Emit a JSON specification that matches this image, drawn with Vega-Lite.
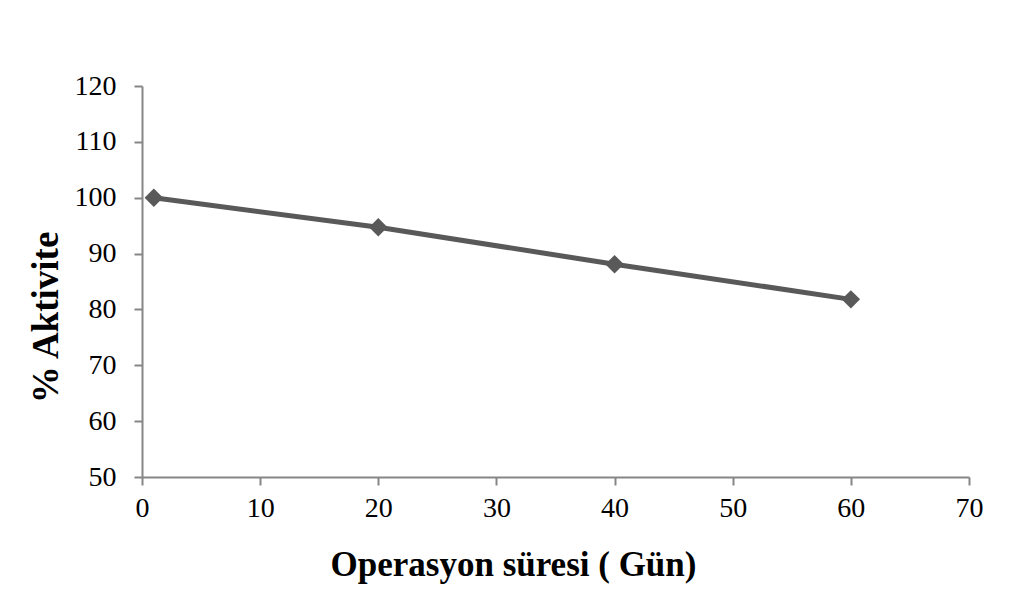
{
  "$schema": "https://vega.github.io/schema/vega-lite/v6.json",
  "width": 827,
  "height": 391,
  "autosize": {"type": "none"},
  "padding": {"left": 142, "top": 86, "right": 58, "bottom": 117},
  "background": "white",
  "config": {
    "view": {"stroke": null},
    "font": "Liberation Serif"
  },
  "data": {
    "values": [
      {"gun": 1, "aktivite": 100.0},
      {"gun": 20, "aktivite": 94.7},
      {"gun": 40, "aktivite": 88.1},
      {"gun": 60, "aktivite": 81.8}
    ]
  },
  "encoding": {
    "x": {
      "field": "gun",
      "type": "quantitative",
      "scale": {"domain": [0, 70], "nice": false, "zero": false},
      "axis": {
        "values": [0, 10, 20, 30, 40, 50, 60, 70],
        "grid": false,
        "domainColor": "#868686",
        "domainWidth": 2,
        "tickColor": "#868686",
        "tickWidth": 2,
        "tickSize": 8,
        "labelFlush": false,
        "labelOverlap": false,
        "labelFont": "Liberation Serif",
        "labelFontSize": 28,
        "labelColor": "#000000",
        "labelPadding": 9,
        "title": "Operasyon süresi ( Gün)",
        "titleFont": "Liberation Serif",
        "titleFontSize": 35,
        "titleFontWeight": "bold",
        "titleColor": "#000000",
        "titleAnchor": "start",
        "titleAlign": "center",
        "titleBaseline": "alphabetic",
        "titleX": 371,
        "titleY": 98
      }
    },
    "y": {
      "field": "aktivite",
      "type": "quantitative",
      "scale": {"domain": [50, 120], "nice": false, "zero": false},
      "axis": {
        "values": [50, 60, 70, 80, 90, 100, 110, 120],
        "grid": false,
        "domainColor": "#868686",
        "domainWidth": 2,
        "tickColor": "#868686",
        "tickWidth": 2,
        "tickSize": 8,
        "labelFlush": false,
        "labelOverlap": false,
        "labelFont": "Liberation Serif",
        "labelFontSize": 28,
        "labelColor": "#000000",
        "labelPadding": 18,
        "title": "% Aktivite",
        "titleFont": "Liberation Serif",
        "titleFontSize": 37,
        "titleFontWeight": "bold",
        "titleColor": "#000000",
        "titleAngle": -90,
        "titleAlign": "center",
        "titleBaseline": "alphabetic",
        "titleX": -85,
        "titleY": 231
      }
    }
  },
  "layer": [
    {
      "mark": {"type": "line", "color": "#595959", "strokeWidth": 5}
    },
    {
      "mark": {"type": "point", "shape": "diamond", "filled": true, "color": "#595959", "opacity": 1, "size": 340}
    }
  ]
}
